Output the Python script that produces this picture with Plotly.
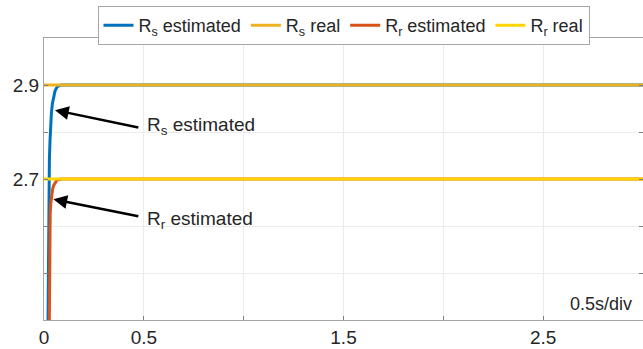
import plotly.graph_objects as go

# Time axis (s) and parameter estimates
t_rs_est = [0.016, 0.019, 0.021, 0.023, 0.025, 0.027, 0.030, 0.033, 0.037, 0.042, 0.048, 0.055, 0.063, 0.072, 0.085, 3.0]
rs_est = [2.20, 2.35, 2.50, 2.62, 2.69, 2.74, 2.78, 2.815, 2.84, 2.86, 2.876, 2.887, 2.894, 2.898, 2.90, 2.90]

t_rr_est = [0.023, 0.025, 0.027, 0.029, 0.031, 0.034, 0.038, 0.043, 0.049, 0.056, 0.064, 0.075, 0.09, 3.0]
rr_est = [2.20, 2.35, 2.50, 2.59, 2.625, 2.648, 2.665, 2.678, 2.687, 2.693, 2.697, 2.699, 2.70, 2.70]

t_real = [0.0, 3.0]
rs_real = [2.9, 2.9]
rr_real = [2.7, 2.7]

x_ticks = [0, 0.5, 1.0, 1.5, 2.0, 2.5, 3.0]
x_labels = ["0", "0.5", "", "1.5", "", "2.5", ""]
y_ticks = [2.4, 2.5, 2.6, 2.7, 2.8, 2.9, 3.0]
y_labels = ["", "", "", "2.7", "", "2.9", ""]

FONT = "Liberation Sans, Arial, sans-serif"
TXT = "#262626"

fig = go.Figure()
fig.add_trace(go.Scatter(x=t_rs_est, y=rs_est, mode="lines", name="R<sub>s</sub> estimated",
                         line=dict(color="#0072BD", width=3)))
fig.add_trace(go.Scatter(x=t_real, y=rs_real, mode="lines", name="R<sub>s</sub> real",
                         line=dict(color="#EDB120", width=3)))
fig.add_trace(go.Scatter(x=t_rr_est, y=rr_est, mode="lines", name="R<sub>r</sub> estimated",
                         line=dict(color="#D95319", width=3)))
fig.add_trace(go.Scatter(x=t_real, y=rr_real, mode="lines", name="R<sub>r</sub> real",
                         line=dict(color="#FFD500", width=3)))

# Arrow callouts
arrows = [
    dict(tip=(0.055, 2.8465), tail=(0.48, 2.809), text="R<sub>s</sub> estimated", ty=2.812),
    dict(tip=(0.047, 2.657), tail=(0.48, 2.620), text="R<sub>r</sub> estimated", ty=2.612),
]
for a in arrows:
    fig.add_annotation(x=a["tip"][0], y=a["tip"][1], ax=a["tail"][0], ay=a["tail"][1],
                       xref="x", yref="y", axref="x", ayref="y", text="",
                       showarrow=True, arrowhead=2, arrowsize=1.1, arrowwidth=2.5,
                       arrowcolor="#000000", standoff=0, startstandoff=0)
    fig.add_annotation(x=0.505, y=a["ty"], xref="x", yref="y", text=a["text"],
                       showarrow=False, xanchor="left", yanchor="middle",
                       font=dict(family=FONT, size=19, color=TXT))

fig.add_annotation(x=0.985, y=0.015, xref="paper", yref="paper", text="0.5s/div",
                   showarrow=False, xanchor="right", yanchor="bottom",
                   font=dict(family=FONT, size=18, color=TXT))

axis_common = dict(showline=True, linecolor="#A6A6A6", linewidth=1, mirror="ticks",
                   ticks="inside", ticklen=4, tickcolor="#7F7F7F",
                   showgrid=True, gridcolor="#EBEBEB", gridwidth=1, zeroline=False,
                   tickfont=dict(family=FONT, size=19, color=TXT))

fig.update_xaxes(range=[0, 3.0], tickmode="array", tickvals=x_ticks, ticktext=x_labels, **axis_common)
fig.update_yaxes(range=[2.4, 3.0], tickmode="array", tickvals=y_ticks, ticktext=y_labels, **axis_common)

fig.update_layout(
    width=643, height=349,
    margin=dict(l=44, r=0, t=38, b=29),
    plot_bgcolor="white", paper_bgcolor="white",
    showlegend=True,
    legend=dict(orientation="h", x=0.5, xanchor="center", y=1.113, yanchor="top",
                bgcolor="white", bordercolor="#A6A6A6", borderwidth=1,
                font=dict(family=FONT, size=18, color=TXT),
                tracegroupgap=0),
    font=dict(family=FONT, color=TXT),
)

fig.write_html("out.html")
